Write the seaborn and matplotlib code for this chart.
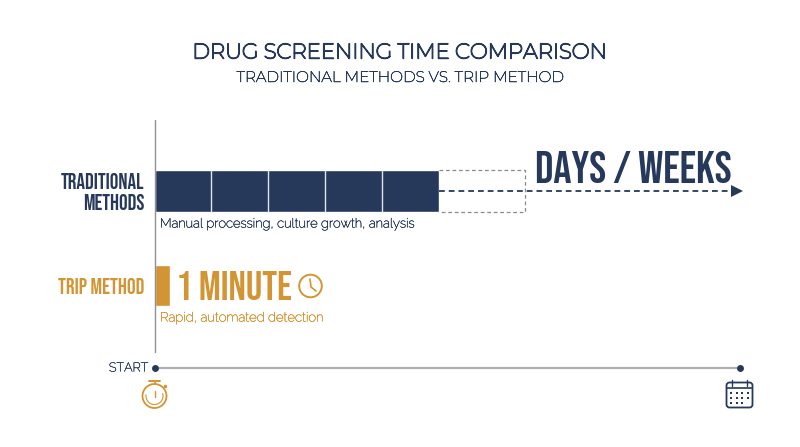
import matplotlib
matplotlib.use("Agg")
import matplotlib.pyplot as plt
import matplotlib.patheffects as pe
import seaborn as sns
import pandas as pd
from matplotlib.patches import Arc, Circle, Rectangle, FancyBboxPatch

# data
methods = ["TRADITIONAL\nMETHODS", "TRIP METHOD"]
durations = [5.0, 0.27]
block_edges = [1, 2, 3, 4]
open_ended_box_end = 6.53
arrow_end = 10.36
timeline_end = 10.3
navy = "#26395b"
gold = "#d39433"
grey = "#b0b1b5"

condensed = ["Bebas Neue", "Roboto"]
heading = ["Montserrat", "Open Sans"]
body = ["Raleway", "Lato"]


def weight(color, lw):
    # these variable fonts load at their thin default, so thicken with a stroke
    return [pe.withStroke(linewidth=lw, foreground=color)]


sns.set_theme(style="white")
df = pd.DataFrame({"method": methods, "duration": durations})

fig = plt.figure(figsize=(8, 4.47), dpi=100)
ax = fig.add_axes([0, 0, 1, 1])
sns.barplot(data=df, y="method", x="duration", hue="method", palette=[navy, gold],
            width=0.434, legend=False, ax=ax, saturation=1)

# one x unit is one block (56.8 px), the categories are 94.5 px apart
ax.set_xlim(-154.5 / 56.8, 645.5 / 56.8)
ax.set_ylim(256 / 94.5, -191 / 94.5)
ax.axis("off")

ax.vlines(block_edges, -0.217, 0.217, color="#dfe3ea", lw=1)
ax.plot([durations[0], open_ended_box_end, open_ended_box_end, durations[0]],
        [-0.217, -0.217, 0.217, 0.217], color="#8a8a8a", lw=0.9, ls=(0, (3, 2.2)))
ax.plot([durations[0], arrow_end - 0.15], [0, 0], color=navy, lw=1.3, ls=(0, (3.2, 2.2)))
ax.plot([arrow_end - 0.1], [0], marker=">", color=navy, ms=9, mew=0)
ax.plot([0, timeline_end], [1.878, 1.878], color=grey, lw=1.6)
ax.plot([0, timeline_end], [1.878, 1.878], ls="", marker="o", color=navy, ms=5, mew=0)
ax.plot([0, 0], [-0.75, 1.7], color="#8f9196", lw=1)

# overlay in pixels for texts and icons
ov = fig.add_axes([0, 0, 1, 1])
ov.set_xlim(0, 800)
ov.set_ylim(447, 0)
ov.axis("off")
ov.patch.set_alpha(0)

ov.text(400, 53, "DRUG SCREENING TIME COMPARISON", ha="center", va="center", color=navy,
        family=heading, fontsize=15.3, path_effects=weight(navy, 1.0))
ov.text(400, 78, "TRADITIONAL METHODS VS. TRIP METHOD", ha="center", va="center", color=navy,
        family=heading, fontsize=11, path_effects=weight(navy, 0.4))
ov.text(144, 181, "TRADITIONAL", ha="right", va="center", color=navy, family=condensed,
        fontsize=15.5)
ov.text(144, 202, "METHODS", ha="right", va="center", color=navy, family=condensed,
        fontsize=15.5)
ov.text(144, 286, "TRIP METHOD", ha="right", va="center", color=gold, family=condensed,
        fontsize=15.6)
ov.text(160, 224, "Manual processing, culture growth, analysis", ha="left", va="center",
        color=navy, family=body, fontsize=9.35, path_effects=weight(navy, 0.3))
ov.text(160, 318, "Rapid, automated detection", ha="left", va="center", color=gold,
        family=body, fontsize=9.45, path_effects=weight(gold, 0.3))
ov.text(176.5, 286, "1 MINUTE", ha="left", va="center", color=gold, family=condensed,
        fontsize=29.4)
ov.text(535, 167, "DAYS / WEEKS", ha="left", va="center", color=navy, family=condensed,
        fontsize=32.5)
ov.text(148, 368, "START", ha="right", va="center", color=navy, family=body, fontsize=9.1,
        path_effects=weight(navy, 0.3))

# clock
ov.add_patch(Circle((310.5, 286), 11.3, fill=False, ec=gold, lw=1.4))
ov.plot([310, 311, 316], [279, 287, 291], color=gold, lw=1.2)

# stopwatch
ov.add_patch(Circle((154.5, 396), 12, fill=False, ec=gold, lw=1.3))
ov.add_patch(Arc((154.5, 396), 17, 17, angle=0, theta1=-20, theta2=190, ec=gold, lw=0.8))
ov.plot([154.5, 154.5], [384, 381], color=gold, lw=1.2)
ov.plot([149, 160], [381, 381], color=gold, lw=1.4)
ov.plot([154.5, 154.5], [391, 397], color=gold, lw=1)
ov.plot([165], [386], marker="o", ms=2.5, color=gold, mew=0)

# calendar
ov.add_patch(FancyBboxPatch((726.5, 382.5), 26, 25, boxstyle="round,pad=0,rounding_size=3",
                            fill=False, ec=navy, lw=1.3))
ov.plot([727, 752], [387.5, 387.5], color=navy, lw=1.2)
ov.plot([732, 732], [380, 386], color=navy, lw=1)
ov.plot([747, 747], [380, 386], color=navy, lw=1)
for row, py in enumerate([393, 398, 403]):
    for col, px in enumerate([731, 736.5, 742, 747.5]):
        if row == 2 and col == 3:
            continue
        ov.add_patch(Rectangle((px - 1, py - 1), 2, 2, color=navy, lw=0))

fig.savefig("out.png", dpi=100, facecolor="white")
